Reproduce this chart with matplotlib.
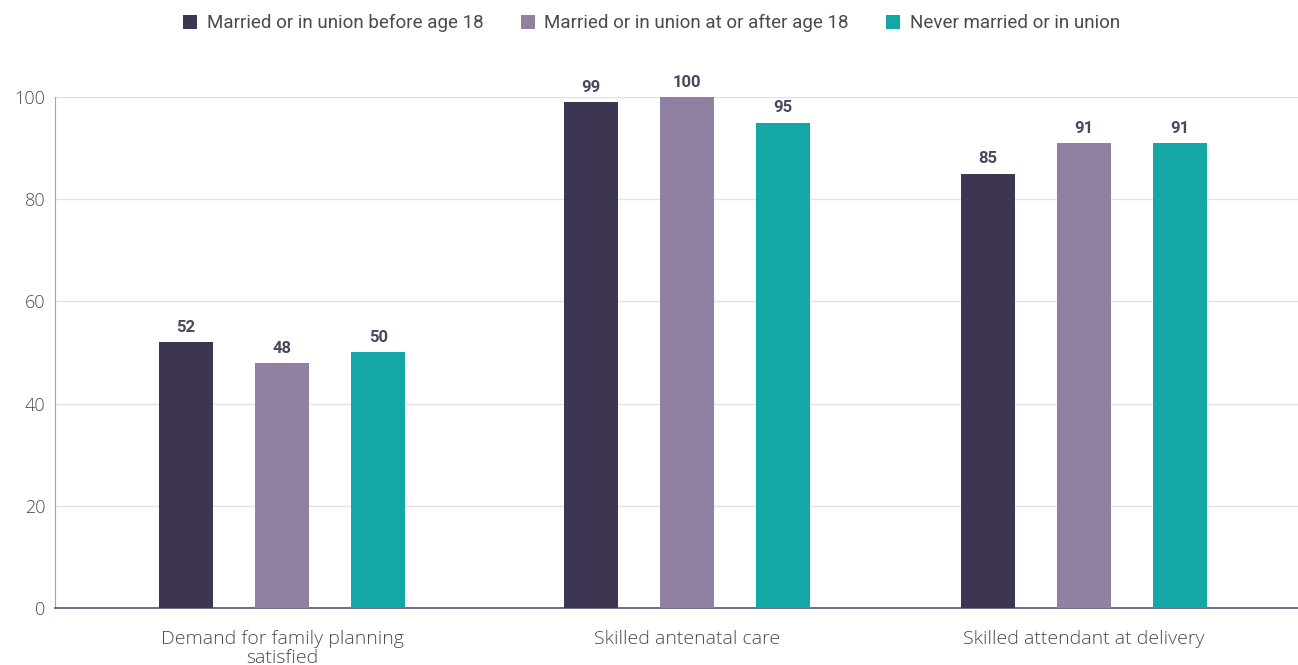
import matplotlib
matplotlib.use("Agg")
import matplotlib.pyplot as plt
import numpy as np

plt.rcParams['font.family'] = ['Roboto', 'DejaVu Sans']

categories = ["Demand for family planning\nsatisfied", "Skilled antenatal care", "Skilled attendant at delivery"]
series_names = ["Married or in union before age 18",
                "Married or in union at or after age 18",
                "Never married or in union"]
before_18 = [52, 99, 85]
after_18 = [48, 100, 91]
never = [50, 95, 91]
yticks = [0, 20, 40, 60, 80, 100]

colors = ["#3e3553", "#9080a2", "#13a8a5"]
text_color = "#4a4a4a"

fig = plt.figure(figsize=(12.98, 6.65), dpi=100)
ax = fig.add_axes([0.0424, 0.0857, 0.9576, 0.7685])

x = np.array([0, 1.01, 2.0])
width = 0.135
offsets = [-0.24, 0.0, 0.24]
for vals, off, col, name in zip([before_18, after_18, never], offsets, colors, series_names):
    bars = ax.bar(x + off, vals, width, color=col, label=name, zorder=3)
    for b, v in zip(bars, vals):
        ax.text(b.get_x() + b.get_width() / 2, v + 1.4, str(v), ha="center", va="bottom",
                fontsize=12, fontweight="bold", color="#4b4660", clip_on=False)

ax.set_xlim(-0.566, 2.534)
ax.set_ylim(0, 100)
ax.set_yticks(yticks)
ax.set_yticklabels([str(t) for t in yticks], fontsize=13, color=text_color,
                   family=["Open Sans", "DejaVu Sans"], fontweight="light")
ax.set_xticks(x)
ax.set_xticklabels(categories, fontsize=14, color=text_color, linespacing=1.02,
                   family=["Open Sans", "DejaVu Sans"], fontweight="light")
ax.tick_params(axis="both", length=0)
ax.tick_params(axis="x", pad=16)
ax.tick_params(axis="y", pad=7)
ax.grid(axis="y", color="#e2e2e2", linewidth=1, zorder=0)
for s in ["top", "right"]:
    ax.spines[s].set_visible(False)
ax.spines["left"].set_color("#a8a0b8")
ax.spines["bottom"].set_color("#5a5370")
ax.spines["bottom"].set_linewidth(1.2)

leg = fig.legend(loc="upper center", bbox_to_anchor=(0.502, 1.004), ncol=3, frameon=False,
                 fontsize=13.5, handlelength=0.75, handleheight=0.75, handletextpad=0.5,
                 columnspacing=2.0)
for t in leg.get_texts():
    t.set_color(text_color)

fig.savefig("out.png", dpi=100)
